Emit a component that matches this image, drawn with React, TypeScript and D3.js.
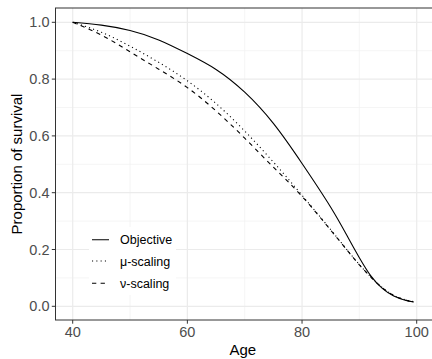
import React from "react";
import * as d3 from "d3";

const ages = [40, 45, 50, 55, 60, 65, 70, 75, 80, 85, 88, 90, 92, 94, 96, 98, 99.5];
const objective = [1.0, 0.99, 0.971, 0.938, 0.89, 0.834, 0.754, 0.644, 0.503, 0.349, 0.243, 0.171, 0.107, 0.063, 0.036, 0.021, 0.015];
const muScaling = [1.0, 0.965, 0.916, 0.859, 0.794, 0.714, 0.617, 0.508, 0.391, 0.27, 0.195, 0.147, 0.103, 0.066, 0.039, 0.023, 0.016];
const nuScaling = [1.0, 0.955, 0.896, 0.835, 0.77, 0.688, 0.592, 0.49, 0.387, 0.268, 0.194, 0.146, 0.103, 0.065, 0.038, 0.022, 0.015];

const seriesNames = ["Objective", "\u03bc-scaling", "\u03bd-scaling"];
const xTicks = [40, 60, 80, 100];
const xMinor = [50, 70, 90];
const yTicks = [0.0, 0.2, 0.4, 0.6, 0.8, 1.0];
const yMinor = [0.1, 0.3, 0.5, 0.7, 0.9];

const W = 432;
const H = 359;
const panel = { left: 55.5, right: 434, top: 8, bottom: 320 };

export default function App() {
  const x = d3.scaleLinear().domain([40, 100]).range([72.7, 416.7]);
  const y = d3.scaleLinear().domain([0, 1]).range([306.3, 22.3]);
  const line = d3
    .line<[number, number]>()
    .x((d) => x(d[0]))
    .y((d) => y(d[1]))
    .curve(d3.curveNatural);
  const series = [objective, muScaling, nuScaling];
  const dashes = ["none", "1.1 3.2", "4.3 4.3"];
  const font = "'Liberation Sans', Arial, Helvetica, sans-serif";
  const legendY = [239.7, 261, 283.3];

  return (
    <svg
      width={W}
      height={H}
      style={{ position: "absolute", left: 0, top: 0, background: "#fff" }}
      fontFamily={font}
    >
      <defs>
        <clipPath id="pc">
          <rect x={panel.left} y={panel.top} width={panel.right - panel.left} height={panel.bottom - panel.top} />
        </clipPath>
      </defs>
      <rect x={0} y={0} width={W} height={H} fill="#fff" />
      <g clipPath="url(#pc)">
        {xMinor.map((v) => (
          <line key={"xm" + v} x1={x(v)} x2={x(v)} y1={panel.top} y2={panel.bottom} stroke="#F0F0F0" strokeWidth={0.7} />
        ))}
        {yMinor.map((v) => (
          <line key={"ym" + v} x1={panel.left} x2={panel.right} y1={y(v)} y2={y(v)} stroke="#F0F0F0" strokeWidth={0.7} />
        ))}
        {xTicks.map((v) => (
          <line key={"xg" + v} x1={x(v)} x2={x(v)} y1={panel.top} y2={panel.bottom} stroke="#EBEBEB" strokeWidth={1.2} />
        ))}
        {yTicks.map((v) => (
          <line key={"yg" + v} x1={panel.left} x2={panel.right} y1={y(v)} y2={y(v)} stroke="#EBEBEB" strokeWidth={1.2} />
        ))}
        {series.map((vals, i) => (
          <path
            key={"s" + i}
            d={line(ages.map((a, j) => [a, vals[j]] as [number, number])) || ""}
            fill="none"
            stroke="#000"
            strokeWidth={1.1}
            strokeDasharray={dashes[i]}
          />
        ))}
        <rect x={89} y={227} width={87} height={68} fill="#fff" />
        {seriesNames.map((n, i) => (
          <g key={"lg" + i}>
            <line x1={92} x2={109} y1={legendY[i]} y2={legendY[i]} stroke="#000" strokeWidth={1.1} strokeDasharray={dashes[i]} />
            <text x={120} y={legendY[i] + 4.5} fontSize={12.5} fill="#000">
              {n}
            </text>
          </g>
        ))}
      </g>
      <rect
        x={panel.left}
        y={panel.top}
        width={panel.right - panel.left}
        height={panel.bottom - panel.top}
        fill="none"
        stroke="#333"
        strokeWidth={1}
      />
      {xTicks.map((v) => (
        <g key={"xt" + v}>
          <line x1={x(v)} x2={x(v)} y1={panel.bottom} y2={panel.bottom + 3.7} stroke="#333" strokeWidth={1} />
          <text x={x(v)} y={panel.bottom + 17} textAnchor="middle" fontSize={14.5} fill="#4D4D4D">
            {d3.format(".0f")(v)}
          </text>
        </g>
      ))}
      {yTicks.map((v) => (
        <g key={"yt" + v}>
          <line x1={panel.left - 3.7} x2={panel.left} y1={y(v)} y2={y(v)} stroke="#333" strokeWidth={1} />
          <text x={panel.left - 6} y={y(v) + 5} textAnchor="end" fontSize={14.5} fill="#4D4D4D">
            {d3.format(".1f")(v)}
          </text>
        </g>
      ))}
      <text x={(panel.left + 430) / 2} y={355} textAnchor="middle" fontSize={15} fill="#000">
        Age
      </text>
      <text
        transform={`translate(22,${(panel.top + panel.bottom) / 2}) rotate(-90)`}
        textAnchor="middle"
        fontSize={15}
        fill="#000"
      >
        Proportion of survival
      </text>
    </svg>
  );
}
